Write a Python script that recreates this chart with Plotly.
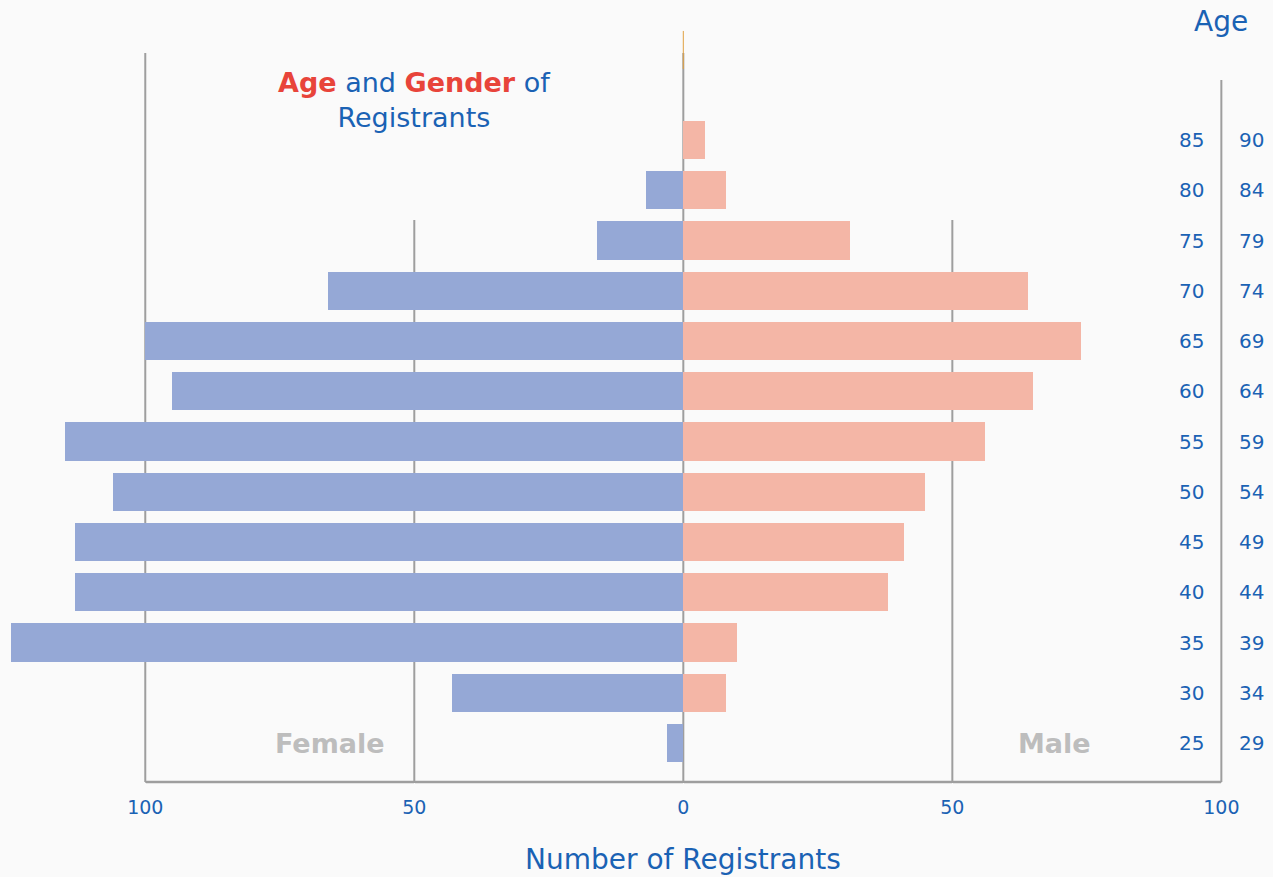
import plotly.graph_objects as go

# Data (ages from youngest to oldest group)
age_start = [25, 30, 35, 40, 45, 50, 55, 60, 65, 70, 75, 80, 85]
age_end = [29, 34, 39, 44, 49, 54, 59, 64, 69, 74, 79, 84, 90]
female = [3, 43, 125, 113, 113, 106, 115, 95, 100, 66, 16, 7, 0]
male = [0, 8, 10, 38, 41, 45, 56, 65, 74, 64, 31, 8, 4]
tick_vals = [-100, -50, 0, 50, 100]
tick_text = ["100", "50", "0", "50", "100"]

BLUE = "#1a62b4"
RED = "#e8443a"
GRID = "#9e9e9e"
BG = "#fafafa"
FONT = "DejaVu Sans"

idx = list(range(len(age_start)))

fig = go.Figure()
fig.add_trace(go.Bar(
    y=idx, x=[-v for v in female], orientation="h",
    marker=dict(color="#95a8d6", line=dict(width=0)), width=0.76,
    name="Female", hoverinfo="x+y"))
fig.add_trace(go.Bar(
    y=idx, x=male, orientation="h",
    marker=dict(color="#f4b6a6", line=dict(width=0)), width=0.76,
    name="Male", hoverinfo="x+y"))

# Grid lines of varying heights (paper y), drawn below the bars
grid_tops = {-100: 0.9322, -50: 0.7187, 0: 0.9322, 50: 0.7187, 100: 0.8977}
shapes = []
for xv, top in grid_tops.items():
    shapes.append(dict(type="line", xref="x", yref="paper", x0=xv, x1=xv,
                       y0=0, y1=top, line=dict(color=GRID, width=2), layer="below"))
shapes.append(dict(type="line", xref="x", yref="paper", x0=-100, x1=100,
                   y0=0, y1=0, line=dict(color=GRID, width=2.5), layer="below"))
shapes.append(dict(type="line", xref="x", yref="paper", x0=0, x1=0,
                   y0=0.9118, y1=0.9604, line=dict(color="#e0a040", width=1), layer="above"))

annotations = []
for i, (a, b) in enumerate(zip(age_start, age_end)):
    annotations.append(dict(x=100, y=i, xref="x", yref="y", text=str(a), showarrow=False,
                            xanchor="right", xshift=-15, font=dict(size=20, color=BLUE, family=FONT)))
    annotations.append(dict(x=100, y=i, xref="x", yref="y", text=str(b), showarrow=False,
                            xanchor="left", xshift=16, font=dict(size=20, color=BLUE, family=FONT)))

annotations += [
    dict(x=100, y=0.972, xref="x", yref="paper", text="Age", showarrow=False,
         xanchor="center", yanchor="middle", font=dict(size=28, color=BLUE, family=FONT)),
    dict(x=-50, y=0.872, xref="x", yref="paper",
         text=f"<b><span style='color:{RED}'>Age</span></b> and <b><span style='color:{RED}'>Gender</span></b> of<br>Registrants",
         showarrow=False, xanchor="center", yanchor="middle", align="center",
         font=dict(size=27, color=BLUE, family=FONT)),
    dict(x=-65.7, y=0, xref="x", yref="y", text="<b>Female</b>", showarrow=False,
         xanchor="center", yanchor="middle", font=dict(size=27, color="#bdbdbd", family=FONT)),
    dict(x=68.9, y=0, xref="x", yref="y", text="<b>Male</b>", showarrow=False,
         xanchor="center", yanchor="middle", font=dict(size=27, color="#bdbdbd", family=FONT)),
    dict(x=0, y=-0.099, xref="x", yref="paper", text="Number of Registrants", showarrow=False,
         xanchor="center", yanchor="middle", font=dict(size=28, color=BLUE, family=FONT)),
]

fig.update_layout(
    width=1273, height=877,
    margin=dict(l=0, r=0, t=0, b=95),
    paper_bgcolor=BG, plot_bgcolor=BG,
    barmode="overlay", bargap=0,
    showlegend=False,
    shapes=shapes, annotations=annotations,
    font=dict(family=FONT, color=BLUE),
    xaxis=dict(range=[-127.0, 109.6], tickvals=tick_vals, ticktext=tick_text,
               showgrid=False, zeroline=False, showline=False,
               ticks="outside", ticklen=8, tickcolor=BG,
               tickfont=dict(size=19, color=BLUE, family=FONT), fixedrange=True),
    yaxis=dict(range=[-0.776, 14.786], showticklabels=False, showgrid=False,
               zeroline=False, showline=False, fixedrange=True),
)

fig.write_html("out.html")
